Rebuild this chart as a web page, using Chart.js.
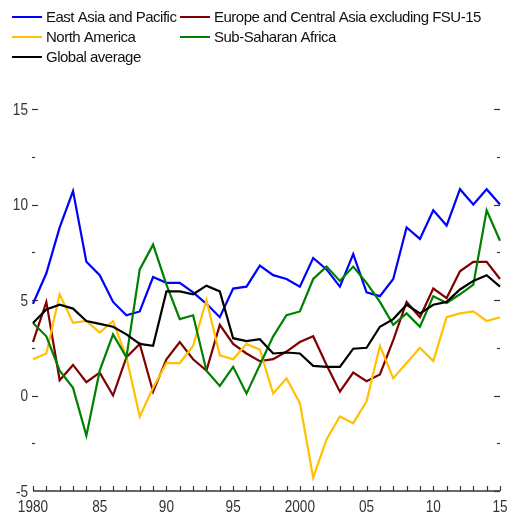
<!DOCTYPE html>
<html>
<head>
<meta charset="utf-8">
<script src="https://cdn.jsdelivr.net/npm/chart.js@4/dist/chart.umd.min.js"></script>
<style>
  html, body { margin: 0; padding: 0; background: #fff; }
  #wrap { width: 510px; height: 515px; }
</style>
</head>
<body>
<div id="wrap"><canvas id="chart" width="510" height="515"></canvas></div>
<script>
// ===== Data =====
const years = [];
for (let y = 1980; y <= 2015; y++) years.push(y);

const seriesNames = [
  "East Asia and Pacific",
  "Europe and Central Asia excluding FSU-15",
  "North America",
  "Sub-Saharan Africa",
  "Global average"
];
const seriesColors = ["#0000ff", "#7f0000", "#ffc000", "#008000", "#000000"];

const eastAsia = [4.8, 6.4, 8.8, 10.7, 7.0, 6.3, 4.9, 4.2, 4.4, 6.2,
  5.9, 5.9, 5.4, 4.8, 4.1, 5.6, 5.7, 6.8, 6.3, 6.1,
  5.7, 7.2, 6.6, 5.7, 7.4, 5.4, 5.2, 6.1, 8.8, 8.2,
  9.7, 8.9, 10.8, 10.0, 10.8, 10.0];
const europe = [2.8, 4.9, 0.8, 1.6, 0.7, 1.2, 0.0, 2.0, 2.7, 0.2,
  1.9, 2.8, 1.9, 1.3, 3.7, 2.7, 2.2, 1.8, 1.9, 2.3,
  2.8, 3.1, 1.6, 0.2, 1.2, 0.75, 1.1, 2.9, 4.9, 4.1,
  5.6, 5.1, 6.5, 7.0, 7.0, 6.1];
const northAmerica = [1.9, 2.2, 5.3, 3.8, 3.9, 3.3, 3.9, 2.0, -1.1, 0.4,
  1.7, 1.7, 2.6, 5.0, 2.1, 1.9, 2.7, 2.4, 0.1, 0.9,
  -0.4, -4.3, -2.3, -1.1, -1.45, -0.3, 2.6, 0.9, 1.7, 2.5,
  1.8, 4.1, 4.3, 4.4, 3.9, 4.1];
const subSaharan = [3.8, 3.1, 1.3, 0.4, -2.1, 1.3, 3.2, 2.0, 6.6, 7.9,
  5.8, 4.0, 4.2, 1.3, 0.5, 1.5, 0.1, 1.6, 3.1, 4.2,
  4.4, 6.1, 6.75, 6.0, 6.75, 5.9, 4.9, 3.7, 4.3, 3.6,
  5.2, 4.85, 5.3, 5.8, 9.7, 8.1];
const globalAvg = [3.8, 4.5, 4.75, 4.55, 3.9, 3.75, 3.6, 3.2, 2.7, 2.6,
  5.45, 5.45, 5.3, 5.75, 5.45, 3.0, 2.85, 2.95, 2.2, 2.25,
  2.2, 1.55, 1.5, 1.5, 2.45, 2.5, 3.6, 4.0, 4.75, 4.3,
  4.75, 4.9, 5.55, 6.0, 6.3, 5.7];

const seriesValues = [eastAsia, europe, northAmerica, subSaharan, globalAvg];

const yMin = -5, yMax = 15, yStep = 2.5;

// ===== Helpers =====
function yearLabel(yr) {
  if (yr % 5 !== 0) return "";
  if (yr === 1980 || yr === 2000) return String(yr);
  return String(yr % 100).padStart(2, "0");
}

// narrow-looking text (Arial Narrow isn't installed, so squeeze Liberation Sans)
function narrowText(ctx, text, x, y, align) {
  const sx = 0.8;
  ctx.save();
  ctx.translate(x, y);
  ctx.scale(sx, 1);
  ctx.textAlign = align;
  ctx.fillText(text, 0, 0);
  ctx.restore();
}

// ===== Axis decorations (ticks drawn inward, as in the original) =====
const axisDeco = {
  id: "axisDeco",
  afterDatasetsDraw(chart) {
    const { ctx, chartArea, scales } = chart;
    const x = scales.x, y = scales.y;
    ctx.save();
    ctx.strokeStyle = "#333";
    ctx.lineWidth = 1.5;
    // x axis line
    ctx.beginPath();
    ctx.moveTo(chartArea.left, chartArea.bottom);
    ctx.lineTo(chartArea.right, chartArea.bottom);
    ctx.stroke();
    // yearly ticks pointing up + labels
    ctx.lineWidth = 1.2;
    ctx.fillStyle = "#333";
    ctx.font = "17px 'Liberation Sans', Arial, sans-serif";
    ctx.textBaseline = "middle";
    years.forEach((yr, i) => {
      const px = Math.round(x.getPixelForValue(i)) + 0.5;
      ctx.beginPath();
      ctx.moveTo(px, chartArea.bottom);
      ctx.lineTo(px, chartArea.bottom - 5);
      ctx.stroke();
      const lbl = yearLabel(yr);
      if (lbl) narrowText(ctx, lbl, x.getPixelForValue(i), chartArea.bottom + 16, "center");
    });
    // y ticks on both sides + left labels
    for (let v = yMin; v <= yMax; v += yStep) {
      const py = Math.round(y.getPixelForValue(v)) + 0.5;
      const major = v % 5 === 0;
      const len = major ? 6 : 3;
      if (v !== yMin) {
        ctx.beginPath();
        ctx.moveTo(chartArea.left - 1, py);
        ctx.lineTo(chartArea.left - 1 + len, py);
        ctx.stroke();
      }
      ctx.beginPath();
      ctx.moveTo(chartArea.right, py);
      ctx.lineTo(chartArea.right - len, py);
      ctx.stroke();
      if (major) narrowText(ctx, String(v), chartArea.left - 5, y.getPixelForValue(v) + 1, "right");
    }
    ctx.restore();
  },
  afterDraw(chart) {
    // legend in two columns
    const { ctx } = chart;
    const cols = [12, 180];
    const rows = [17, 37, 57];
    ctx.save();
    ctx.font = "15px 'Liberation Sans', Arial, sans-serif";
    ctx.textBaseline = "middle";
    ctx.fillStyle = "#111";
    if ("letterSpacing" in ctx) ctx.letterSpacing = "-0.5px";
    chart.data.datasets.forEach((ds, i) => {
      const lx = cols[i % 2];
      const ly = rows[Math.floor(i / 2)];
      ctx.strokeStyle = ds.borderColor;
      ctx.lineWidth = 2;
      ctx.beginPath();
      ctx.moveTo(lx, ly);
      ctx.lineTo(lx + 30, ly);
      ctx.stroke();
      ctx.fillText(ds.label, lx + 34, ly + 1);
    });
    ctx.restore();
  }
};

// ===== Chart =====
const datasets = seriesNames.map((name, i) => ({
  label: name,
  data: seriesValues[i],
  borderColor: seriesColors[i],
  backgroundColor: seriesColors[i],
  borderWidth: 2.2,
  pointRadius: 0,
  tension: 0,
  order: seriesNames.length - i
}));

new Chart(document.getElementById("chart"), {
  type: "line",
  data: { labels: years, datasets },
  options: {
    responsive: false,
    animation: false,
    layout: { padding: { top: 109, right: 10, left: 0, bottom: 0 } },
    plugins: { legend: { display: false }, tooltip: { enabled: false } },
    scales: {
      x: {
        offset: false,
        border: { display: false },
        grid: { display: false, drawTicks: false },
        ticks: { display: false },
        afterFit: (scale) => { scale.height = 24; }
      },
      y: {
        min: yMin,
        max: yMax,
        border: { display: false },
        grid: { display: false, drawTicks: false },
        ticks: { display: false, stepSize: yStep },
        afterFit: (scale) => { scale.width = 33; }
      }
    }
  },
  plugins: [axisDeco]
});
</script>
</body>
</html>
